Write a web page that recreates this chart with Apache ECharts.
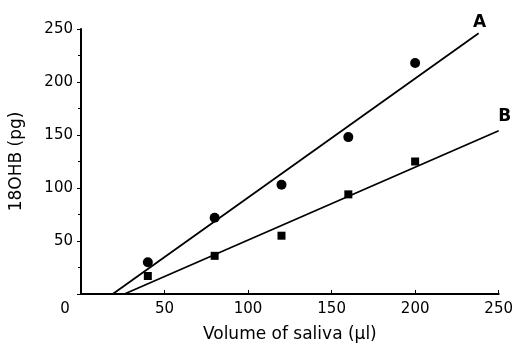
<!DOCTYPE html>
<html>
<head>
<meta charset="utf-8">
<script src="https://cdn.jsdelivr.net/npm/echarts@6/dist/echarts.min.js"></script>
<style>
  html, body { margin: 0; padding: 0; background: #fff; }
  #chart { width: 516px; height: 348px; }
</style>
</head>
<body>
<div id="chart"></div>
<script>
// saliva volume (ul) vs 18OHB (pg)
const volumes = [40, 80, 120, 160, 200];
const valuesA = [30, 72, 103, 148, 218];
const valuesB = [17, 36, 55, 94, 125];
// fitted lines, endpoints
const lineA = [[19, 0], [238, 246]];
const lineB = [[26, 0], [250, 154]];
const xTicks = [0, 250, 50];   // min, max, interval
const yTicks = [0, 250, 50];

function renderChart() {
  const dom = document.getElementById('chart');
  const chart = echarts.init(dom);
  const font = 'DejaVu Sans';
  const tagStyle = { color: '#000', fontSize: 17, fontFamily: font };
  const option = {
    animation: false,
    backgroundColor: '#fff',
    grid: { left: 78, right: 15, top: 29, bottom: 53 },
    xAxis: {
      type: 'value',
      min: xTicks[0], max: xTicks[1], interval: xTicks[2],
      name: 'Volume of saliva (\u03bcl)',
      nameLocation: 'middle',
      nameGap: 32,
      nameTextStyle: { color: '#000', fontSize: 17, fontFamily: font },
      axisLine: { lineStyle: { color: '#000', width: 2 } },
      axisTick: { show: true, inside: true, length: 4, lineStyle: { color: '#000' } },
      splitLine: { show: false },
      axisLabel: {
        color: '#000', fontSize: 15, fontFamily: font, margin: 8,
        formatter: v => v === 0 ? '{z|0}' : String(v),
        rich: { z: { padding: [0, 32, 0, 0], fontSize: 15, fontFamily: font, color: '#000' } }
      }
    },
    yAxis: {
      type: 'value',
      min: yTicks[0], max: yTicks[1], interval: yTicks[2],
      name: '18OHB (pg)',
      nameLocation: 'middle',
      nameGap: 56,
      nameTextStyle: { color: '#000', fontSize: 17, fontFamily: font },
      axisLine: { show: true, lineStyle: { color: '#000', width: 2 } },
      axisTick: { show: true, length: 4, lineStyle: { color: '#000' } },
      minorTick: { show: true, splitNumber: 2, length: 3, lineStyle: { color: '#000' } },
      splitLine: { show: false },
      axisLabel: { color: '#000', fontSize: 15, fontFamily: font, margin: 8, showMinLabel: false }
    },
    series: [
      {
        name: 'A', type: 'scatter', symbol: 'circle', symbolSize: 10,
        itemStyle: { color: '#000', opacity: 1 },
        data: volumes.map((v, i) => [v, valuesA[i]])
      },
      {
        name: 'B', type: 'scatter', symbol: 'rect', symbolSize: 8,
        itemStyle: { color: '#000', opacity: 1 },
        data: volumes.map((v, i) => [v, valuesB[i]])
      },
      {
        name: 'line A', type: 'line', symbol: 'none',
        lineStyle: { color: '#000', width: 1.8 },
        data: lineA
      },
      {
        name: 'line B', type: 'line', symbol: 'none',
        lineStyle: { color: '#000', width: 1.8 },
        data: lineB
      },
      {
        name: 'labels', type: 'scatter', symbolSize: 0, silent: true,
        itemStyle: { color: '#000', opacity: 1 },
        data: [
          { value: lineA[1], label: Object.assign({ show: true, formatter: 'A', position: 'top', offset: [1, 3], fontWeight: 'bold' }, tagStyle) },
          { value: lineB[1], label: Object.assign({ show: true, formatter: 'B', position: 'top', offset: [6, -1], fontWeight: 'bold' }, tagStyle) }
        ]
      }
    ]
  };
  chart.setOption(option, true);
}
renderChart();
</script>
</body>
</html>
